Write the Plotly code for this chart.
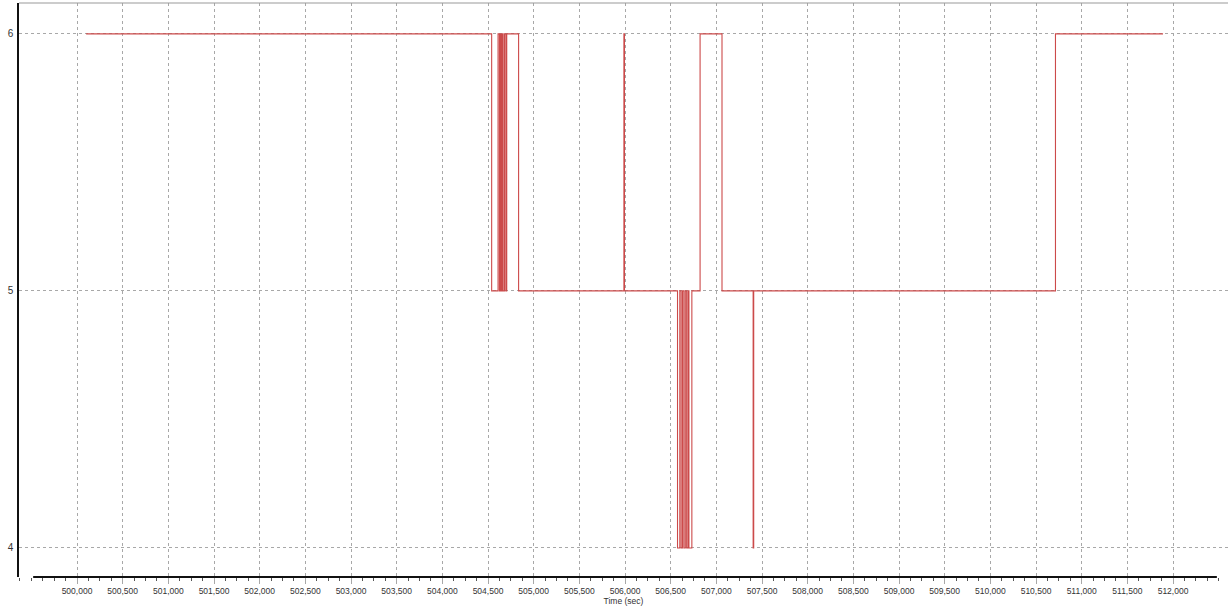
import plotly.graph_objects as go

# Step data: time (sec) at which each value starts
times = [500100, 504540, 504610, 504625, 504635, 504645, 504655, 504665, 504680,
         504695, 504705, 504835, 505988, 505994, 506575, 506600, 506615, 506630,
         506645, 506660, 506675, 506690, 506700, 506732, 506822, 507062, 507403,
         507409, 510713, 511891]
values = [6, 5, 6, 5, 6, 5, 6, 5, 6,
          5, 6, 5, 6, 5, 4, 5, 4, 5,
          4, 5, 4, 5, 4, 5, 6, 5, 4,
          5, 6, 6]

x_ticks = list(range(500000, 512001, 500))
x_range = [499365, 512602]
y_range = [3.887, 6.12]
y_ticks = [4, 5, 6]
x_title = "Time (sec)"

fig = go.Figure()
fig.add_trace(go.Scatter(
    x=times, y=values, mode="lines", line_shape="hv",
    line=dict(color="#cc4a4a", width=1.1), showlegend=False,
))

fig.update_layout(
    width=1228, height=611,
    margin=dict(l=19, r=0, t=3, b=34),
    plot_bgcolor="white", paper_bgcolor="white",
    font=dict(family="Liberation Sans, Arial, sans-serif", size=9, color="#333333"),
    xaxis=dict(
        range=x_range, tickvals=x_ticks, tickformat=",d", automargin=False,
        showgrid=True, gridcolor="#a8a8a8", griddash="dot", gridwidth=1,
        zeroline=False, showline=False,
        ticks="outside", ticklen=6, tickcolor="#a8a8a8", tickwidth=1,
        minor=dict(dtick=125, tick0=500000, ticks="outside", ticklen=3,
                   tickcolor="#555555", showgrid=False),
        title=dict(text=x_title, font=dict(size=8.5, color="#333333"), standoff=0),
        tickfont=dict(size=8.5, color="#333333"),
    ),
    yaxis=dict(
        range=y_range, tickvals=y_ticks, automargin=False,
        showgrid=True, gridcolor="#a8a8a8", griddash="dot", gridwidth=1,
        zeroline=False, showline=True, linecolor="#111111", linewidth=1.5,
        ticks="", ticklabelstandoff=2, tickfont=dict(size=10, color="#333333"),
    ),
    shapes=[
        dict(type="line", xref="x", yref="paper", x0=499520, x1=512480, y0=0, y1=0,
             line=dict(color="#111111", width=2)),
        dict(type="line", xref="paper", yref="paper", x0=0, x1=1, y0=1, y1=1,
             line=dict(color="#999999", width=1)),
    ],
)

fig.write_html("out.html",
               config={"displayModeBar": False},
               post_script="document.body.style.margin='0px';document.body.style.overflow='hidden';")
